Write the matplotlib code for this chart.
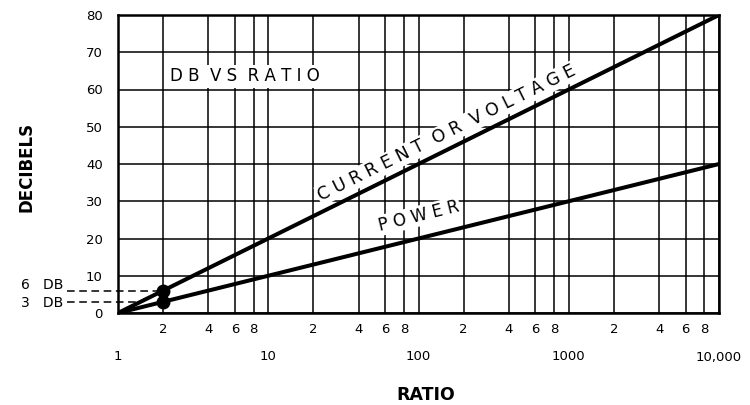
import numpy as np
import matplotlib
matplotlib.use('Agg')
import matplotlib.pyplot as plt
from matplotlib.ticker import FixedLocator, FixedFormatter

# values
ratios = [1, 10, 100, 1000, 10000]
current_db = [0, 20, 40, 60, 80]
power_db = [0, 10, 20, 30, 40]
dot_ratio = [2, 2]
dot_db = [6, 3]
major_ticks = [1, 10, 100, 1000, 10000]
major_labels = ['1', '10', '100', '1000', '10,000']
minor_ticks = [m * d for d in (1, 10, 100, 1000) for m in (2, 4, 6, 8)]
minor_labels = ['2', '4', '6', '8'] * 4
y_ticks = [0, 10, 20, 30, 40, 50, 60, 70, 80]

plt.rcParams['font.family'] = ['DejaVu Sans']

fig = plt.figure(figsize=(7.5, 4.05), dpi=100)
ax = fig.add_axes([118 / 750, 92 / 405, 601 / 750, 298 / 405])
ax.set_xscale('log')
ax.set_xlim(1, 10000)
ax.set_ylim(0, 80)

# grid
ax.xaxis.set_major_locator(FixedLocator(major_ticks))
ax.xaxis.set_major_formatter(FixedFormatter(major_labels))
ax.xaxis.set_minor_locator(FixedLocator(minor_ticks))
ax.xaxis.set_minor_formatter(FixedFormatter(minor_labels))
ax.set_yticks(y_ticks)
ax.grid(True, which='both', color='black', linewidth=1.1)
ax.tick_params(axis='x', which='major', length=0, pad=27, labelsize=9.5)
ax.tick_params(axis='x', which='minor', length=0, pad=7, labelsize=9.5)
ax.tick_params(axis='y', length=0, pad=11, labelsize=9.5)
for s in ax.spines.values():
    s.set_linewidth(1.8)

ax.plot(ratios, current_db, color='black', linewidth=2.9, solid_capstyle='round', zorder=3)
ax.plot(ratios, power_db, color='black', linewidth=2.9, solid_capstyle='round', zorder=3)
ax.plot(dot_ratio, dot_db, 'o', color='black', markersize=9, zorder=4, clip_on=False)

# dashed leaders for 6 DB / 3 DB
ax.plot([0.46, 2], [6, 6], color='black', linewidth=1.1, dashes=(5, 3), clip_on=False, zorder=2)
ax.plot([0.46, 10 ** (3 / 20)], [3, 3], color='black', linewidth=1.1, dashes=(5, 3), clip_on=False, zorder=2)
ax.text(0.43, 7.4, '6   DB', ha='right', va='center', fontsize=10)
ax.text(0.43, 2.6, '3   DB', ha='right', va='center', fontsize=10)


def spaced(s):
    # wide lettering like the stencil text of the original
    return '  '.join(' '.join(w) for w in s.split())


ax.text(7, 63.5, spaced('DB VS RATIO'), ha='center', va='center', fontsize=12,
        bbox=dict(facecolor='white', edgecolor='none', pad=2), zorder=5)


def angle(x0, y0, x1, y1):
    p0 = ax.transData.transform((x0, y0))
    p1 = ax.transData.transform((x1, y1))
    return np.degrees(np.arctan2(p1[1] - p0[1], p1[0] - p0[0]))


ax.text(155, 48.3, spaced('CURRENT OR VOLTAGE'), ha='center', va='center', fontsize=12.5,
        rotation=angle(1, 0, 10000, 80), rotation_mode='anchor',
        bbox=dict(facecolor='white', edgecolor='none', pad=1), zorder=5)
ax.text(100, 26, spaced('POWER'), ha='center', va='center', fontsize=12,
        rotation=angle(1, 0, 10000, 40), rotation_mode='anchor',
        bbox=dict(facecolor='white', edgecolor='none', pad=1), zorder=5)

fig.text(27 / 750, 1 - 167 / 405, 'DECIBELS', rotation=90, ha='center', va='center',
         fontsize=12, fontweight='bold')
fig.text(426 / 750, 1 - 395 / 405, 'RATIO', ha='center', va='center', fontsize=12.5, fontweight='bold')

fig.savefig('out.png', dpi=100)
